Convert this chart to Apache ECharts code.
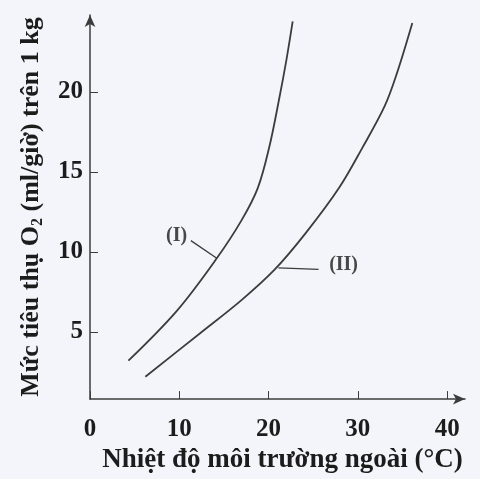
<!DOCTYPE html>
<html lang="vi">
<head>
	<meta charset="UTF-8">
	<title>O2</title>
	<script src="https://cdn.jsdelivr.net/npm/echarts@6/dist/echarts.min.js"></script>
	<style>
		html, body { margin: 0; padding: 0; background: #f4f5fa; }
		#main { width: 480px; height: 479px; }
	</style>
</head>
<body>
	<div id="main"></div>
	<script type="text/javascript">
		// [nhiệt độ, mức tiêu thụ O2]
		var curveI = [[4.3, 3.2], [9.7, 6.3], [14.2, 9.6], [17.0, 12.0], [18.8, 14.0], [20.1, 16.6], [21.2, 19.6], [22.0, 22.0], [22.7, 24.4]];
		var curveII = [[6.2, 2.2], [12.3, 4.9], [17.0, 7.0], [20.7, 8.9], [24.2, 11.2], [27.9, 14.0], [30.5, 16.5], [33.0, 19.1], [34.4, 21.2], [36.1, 24.3]];

		var curveNames = ['(I)', '(II)'];
		var labelAt = [[9.7, 11.0], [28.4, 9.2]];
		var leaderI = [[11.3, 10.7], [14.2, 9.6]];
		var leaderII = [[25.6, 8.9], [21.1, 9.0]];

		var yTicks = [5, 10, 15, 20];

		var ink = '#1c1c1c';
		var lineInk = '#3c3c3c';
		var font = 'Liberation Serif';

		var myChart = echarts.init(document.getElementById('main'));

		var option = {
			backgroundColor: '#f4f5fa',
			animation: false,
			grid: { left: 90, right: 15, top: 15, bottom: 73 },
			xAxis: {
				type: 'value',
				min: 0,
				max: 42,
				interval: 10,
				name: 'Nhiệt độ môi trường ngoài (°C)',
				nameLocation: 'middle',
				nameGap: 44,
				nameTextStyle: { color: ink, fontFamily: font, fontWeight: 'bold', fontSize: 27, padding: [0, 0, 0, 10] },
				axisLine: { lineStyle: { color: lineInk, width: 1.5 }, symbol: ['none', 'arrow'], symbolSize: [8, 12] },
				axisTick: { inside: true, length: 8, lineStyle: { color: lineInk } },
				axisLabel: {
					color: ink, fontFamily: font, fontWeight: 'bold', fontSize: 25, margin: 18,
					showMaxLabel: false,
					formatter: function (v) { return v <= 40 ? v : ''; }
				},
				splitLine: { show: false }
			},
			yAxis: {
				type: 'value',
				min: 0.8,
				max: 24.8,
				name: 'Mức tiêu thụ O{s|2} (ml/giờ) trên 1 kg',
				nameLocation: 'middle',
				nameGap: 44,
				nameTextStyle: {
					color: ink, fontFamily: font, fontWeight: 'bold', fontSize: 26,
					rich: {
						s: { color: ink, fontFamily: font, fontWeight: 'bold', fontSize: 16, padding: [13, 0, 0, 0] }
					}
				},
				axisLine: { lineStyle: { color: lineInk, width: 1.5 }, symbol: ['none', 'arrow'], symbolSize: [8, 12] },
				axisTick: { inside: true, length: 8, customValues: yTicks, lineStyle: { color: lineInk } },
				axisLabel: { color: ink, fontFamily: font, fontWeight: 'bold', fontSize: 25, margin: 7, customValues: yTicks },
				splitLine: { show: false }
			},
			series: [
				{
					name: curveNames[0],
					type: 'line',
					smooth: 0.35,
					showSymbol: false,
					data: curveI,
					lineStyle: { color: lineInk, width: 1.8 }
				},
				{
					name: curveNames[1],
					type: 'line',
					smooth: 0.35,
					showSymbol: false,
					data: curveII,
					lineStyle: { color: lineInk, width: 1.8 }
				},
				{
					type: 'line',
					showSymbol: false,
					data: leaderI,
					lineStyle: { color: lineInk, width: 1.3 }
				},
				{
					type: 'line',
					showSymbol: false,
					data: leaderII,
					lineStyle: { color: lineInk, width: 1.3 }
				},
				{
					type: 'scatter',
					symbolSize: 0,
					data: labelAt.map(function (p, i) { return { value: p, name: curveNames[i] }; }),
					label: {
						show: true,
						position: 'inside',
						formatter: '{b}',
						color: ink,
						fontFamily: font,
						fontWeight: 'bold',
						fontSize: 20
					}
				}
			]
		};

		myChart.setOption(option);
	</script>
</body>
</html>
